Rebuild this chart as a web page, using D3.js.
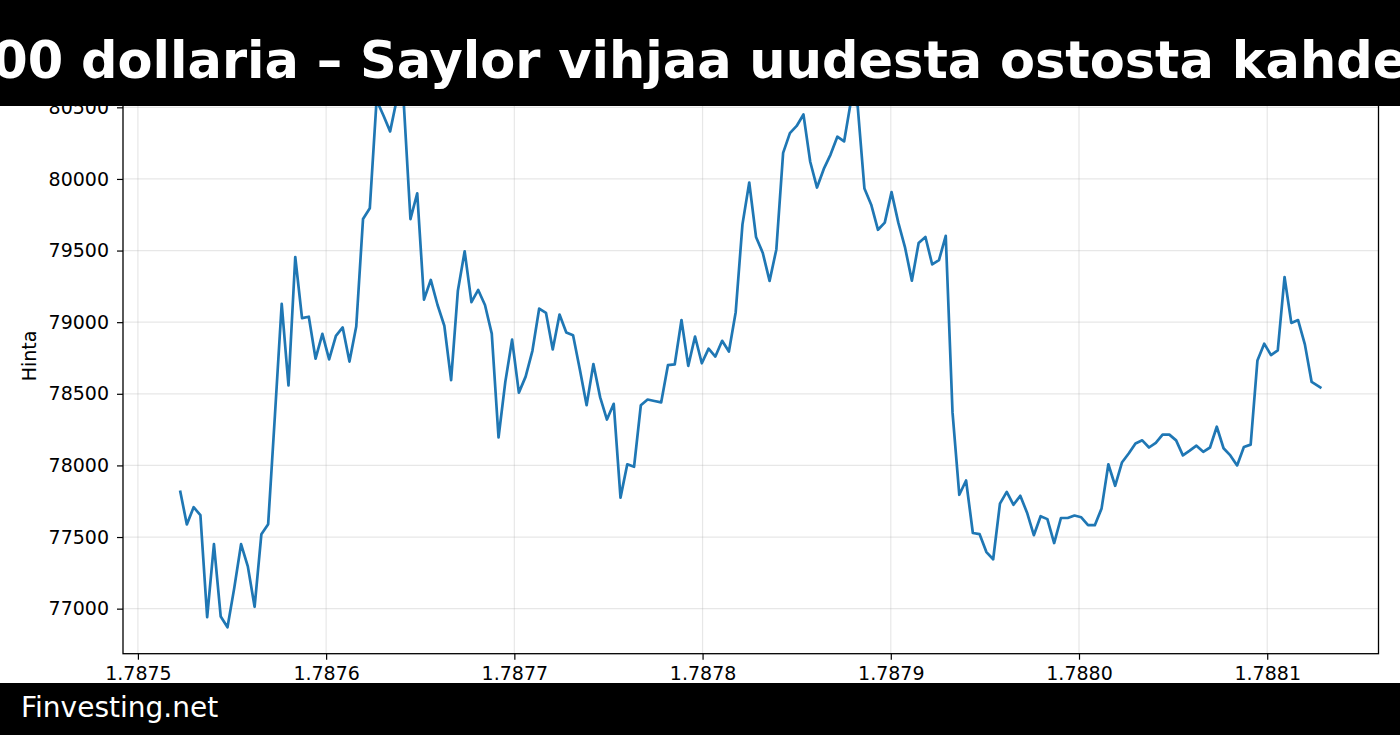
<!DOCTYPE html>
<html>
<head>
<meta charset="utf-8">
<script src="https://cdn.jsdelivr.net/npm/d3@7"></script>
<style>
  html, body { margin: 0; padding: 0; background: #fff; }
  svg { display: block; }
  text { font-family: "DejaVu Sans", sans-serif; }
</style>
</head>
<body>
<svg id="chart" width="1400" height="735"></svg>
<script>
// ---- data ----
const titleText = "00 dollaria – Saylor vihjaa uudesta ostosta kahde";
const footerText = "Finvesting.net";
const yLabel = "Hinta";
const START_TIME = 1787522400;   // seconds
const STEP = 3600;               // hourly
const LAST_TIME = 1788128800;    // last (partial) sample
const prices = [
  77825, 77588, 77708, 77653, 76940, 77450, 76945, 76870, 77145, 77450,
  77295, 77013, 77520, 77590, 78350, 79128, 78558, 79455, 79028, 79038,
  78745, 78918, 78740, 78905, 78963, 78725, 78970, 79720, 79795, 80550,
  80445, 80332, 80560, 80540, 79720, 79900, 79158, 79295, 79120, 78975,
  78595, 79220, 79495, 79140, 79225, 79120, 78920, 78195, 78583, 78878,
  78508, 78620, 78800, 79095, 79065, 78810, 79053, 78928, 78908, 78670,
  78420, 78708, 78475, 78320, 78430, 77775, 78008, 77990, 78420, 78460,
  78450, 78440, 78700, 78705, 79015, 78695, 78900, 78713, 78815, 78760,
  78870, 78795, 79070, 79683, 79975, 79595, 79483, 79288, 79508, 80182,
  80320, 80370, 80450, 80120, 79940, 80070, 80170, 80295, 80262, 80540,
  80510, 79933, 79820, 79645, 79695, 79908, 79695, 79520, 79290, 79553,
  79595, 79403, 79433, 79603, 78370, 77795, 77895, 77528, 77520, 77395,
  77345, 77733, 77815, 77725, 77788, 77670, 77513, 77645, 77625, 77458,
  77633, 77633, 77650, 77638, 77583, 77583, 77700, 78008, 77858, 78020,
  78083, 78153, 78175, 78125, 78158, 78215, 78215, 78175, 78070, 78103,
  78138, 78095, 78125, 78270, 78120, 78070, 78000, 78128, 78145, 78733,
  78850, 78770, 78803, 79315, 78995, 79015, 78845, 78583, 78540
];
const xTicks = [1.7875e9, 1.7876e9, 1.7877e9, 1.7878e9, 1.7879e9, 1.7880e9, 1.7881e9];
const yTicks = [77000, 77500, 78000, 78500, 79000, 79500, 80000, 80500];

const times = prices.map((_, i) => i === prices.length - 1 ? LAST_TIME : START_TIME + i * STEP);
const data = prices.map((p, i) => ({ t: times[i], v: p }));

// ---- layout ----
const W = 1400, H = 735;
const plot = { left: 123, right: 1378.5, top: 72.3, bottom: 653.7 };

const svg = d3.select("#chart");
svg.append("rect").attr("width", W).attr("height", H).attr("fill", "#fff");

// matplotlib-like 5% margins
const [tMin, tMax] = d3.extent(times);
const [vMin, vMax] = d3.extent(prices);
const tPad = (tMax - tMin) * 0.05, vPad = (vMax - vMin) * 0.05;
const x = d3.scaleLinear().domain([tMin - tPad, tMax + tPad]).range([plot.left, plot.right]);
const y = d3.scaleLinear().domain([vMin - vPad, vMax + vPad]).range([plot.bottom, plot.top]);

// grid
const grid = svg.append("g").attr("stroke", "#b0b0b0").attr("stroke-opacity", 0.3).attr("stroke-width", 1.2);
grid.selectAll(".gx").data(xTicks).join("line")
  .attr("x1", d => x(d)).attr("x2", d => x(d))
  .attr("y1", plot.top).attr("y2", plot.bottom);
grid.selectAll(".gy").data(yTicks).join("line")
  .attr("x1", plot.left).attr("x2", plot.right)
  .attr("y1", d => y(d)).attr("y2", d => y(d));

// line
const line = d3.line().x(d => x(d.t)).y(d => y(d.v));
svg.append("path").datum(data)
  .attr("fill", "none").attr("stroke", "#1f77b4")
  .attr("stroke-width", 2.7).attr("stroke-linejoin", "round").attr("stroke-linecap", "butt")
  .attr("d", line);

// axes
const xAxis = d3.axisBottom(x).tickValues(xTicks).tickSize(6).tickPadding(7)
  .tickFormat(d => (d / 1e9).toFixed(4));
const yAxis = d3.axisLeft(y).tickValues(yTicks).tickSize(6).tickPadding(8)
  .tickFormat(d3.format("d"));

const gx = svg.append("g").attr("transform", `translate(0,${plot.bottom})`).call(xAxis);
const gy = svg.append("g").attr("transform", `translate(${plot.left},0)`).call(yAxis);
[gx, gy].forEach(g => {
  g.select(".domain").remove();
  g.selectAll(".tick line").attr("stroke", "#000").attr("stroke-width", 1.2);
  g.selectAll(".tick text").attr("fill", "#000").style("font-size", "19px")
    .style("font-family", "'DejaVu Sans', sans-serif");
});

// spines
svg.append("rect")
  .attr("x", plot.left).attr("y", plot.top)
  .attr("width", plot.right - plot.left).attr("height", plot.bottom - plot.top)
  .attr("fill", "none").attr("stroke", "#000").attr("stroke-width", 1.3);

// y label
svg.append("text")
  .attr("transform", `translate(36,356) rotate(-90)`)
  .attr("text-anchor", "middle")
  .style("font-size", "19px").attr("fill", "#000")
  .text(yLabel);

// top banner
svg.append("rect").attr("x", 0).attr("y", 0).attr("width", W).attr("height", 106).attr("fill", "#000");
const title = svg.append("text")
  .attr("x", 0).attr("y", 78)
  .style("font-size", "51px").style("font-weight", "bold")
  .attr("fill", "#fff")
  .text(titleText);
// position so that "d" of "dollaria" starts near x=83
const dPos = title.node().getStartPositionOfChar(3).x;
title.attr("x", 81 - dPos);

// bottom banner
svg.append("rect").attr("x", 0).attr("y", 683).attr("width", W).attr("height", H - 683).attr("fill", "#000");
svg.append("text")
  .attr("x", 21).attr("y", 717)
  .style("font-size", "28px").attr("fill", "#fff")
  .text(footerText);
</script>
</body>
</html>
